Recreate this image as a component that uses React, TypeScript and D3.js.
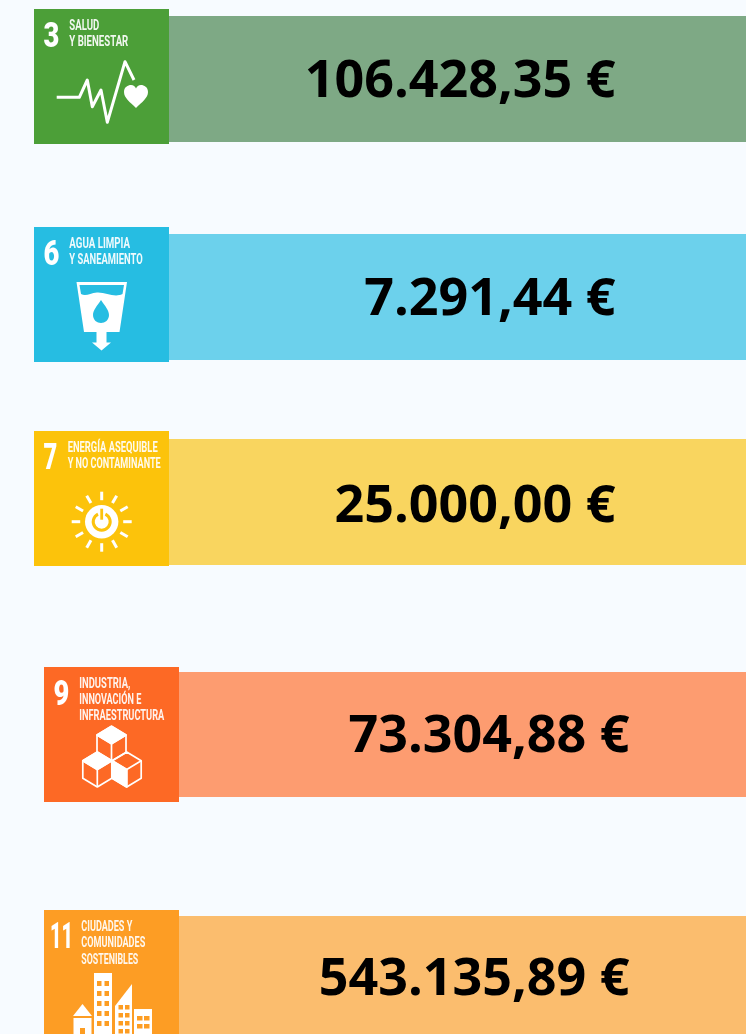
import React from 'react';
import * as d3 from 'd3';

const goals = [3, 6, 7, 9, 11];
const amounts = [106428.35, 7291.44, 25000.0, 73304.88, 543135.89];
const titles = [
  ['SALUD', 'Y BIENESTAR'],
  ['AGUA LIMPIA', 'Y SANEAMIENTO'],
  ['ENERGÍA ASEQUIBLE', 'Y NO CONTAMINANTE'],
  ['INDUSTRIA,', 'INNOVACIÓN E', 'INFRAESTRUCTURA'],
  ['CIUDADES Y', 'COMUNIDADES', 'SOSTENIBLES'],
];

// layout
const width = 746;
const height = 1034;
const tileSize = 135;
const tileColors = ['#4c9f38', '#26bde2', '#fcc30b', '#fd6925', '#fd9d24'];
const barColors = ['#7ea985', '#6cd1ec', '#f9d55f', '#fd9c70', '#fbbd6e'];
const tileX = [34, 34, 34, 44, 44];
const tileY = [9, 227, 431, 667, 910];
const barY = [16, 234, 439, 672, 916];
const barH = [126, 126, 126, 125, 126];
const textRight = [615.5, 615.5, 615.5, 629.5, 629.5];
const textBase = [97, 315, 522, 752, 995];
const titleX = [35.3, 35.3, 33.7, 35.3, 37.3];
const titleW = [[30, 59], [60.7, 73.3], [90, 93], [51, 62, 85], [51, 64, 57]];
const titleBase = [[21, 36.7], [21, 36.7], [21, 36.7], [21, 36.7, 53], [21.3, 37.3, 54]];
const numX = [9.5, 9.5, 9.5, 9.5, 6];
const numScale = [0.76, 0.76, 0.66, 0.76, 0.55];

const esLocale = d3.formatLocale({
  decimal: ',',
  thousands: '.',
  grouping: [3],
  currency: ['', ' €'],
});
const fmt = esLocale.format(',.2f');

const pulse: [number, number][] = [
  [22.7, 88.3], [45.3, 88.3], [53.3, 71], [58.3, 97.7], [67, 81], [73.3, 113.3], [91, 52.7], [100, 71],
];

function HealthIcon() {
  return (
    <g>
      <path d={d3.line()(pulse) ?? ''} fill="none" stroke="#fff" strokeWidth={3} strokeLinejoin="round" />
      <path
        d="M102 99 C96 93 90 89 90 83 C90 78 94 76 97 76 C99.5 76 101 77.5 102 79.5 C103 77.5 104.5 76 107 76 C110 76 114 78 114 83 C114 89 108 93 102 99 Z"
        fill="#fff"
      />
    </g>
  );
}

function WaterIcon({ bg }: { bg: string }) {
  return (
    <g>
      <path d="M42.5 55 H93 L85.5 105 H72.5 V115.5 H77 L67.5 123.5 L58 115.5 H62.5 V105 H50 Z" fill="#fff" />
      <path d="M45.5 58 H90 L88.5 67 C80 71 72 65 63 65.5 C56 66 52 70 47 67 Z" fill={bg} />
      <path d="M67 73 C71 79 75 83 75 88 C75 93 71 96 67 96 C63 96 59 93 59 88 C59 83 63 79 67 73 Z" fill={bg} />
    </g>
  );
}

function SunIcon({ bg }: { bg: string }) {
  const cx = 67.7;
  const cy = 90.7;
  const rays = d3.range(12).map(i => (i * Math.PI) / 6);
  return (
    <g>
      {rays.map((a, i) => (
        <line
          key={i}
          x1={cx + 21.5 * Math.cos(a)}
          y1={cy + 21.5 * Math.sin(a)}
          x2={cx + 30 * Math.cos(a)}
          y2={cy + 30 * Math.sin(a)}
          stroke="#fff"
          strokeWidth={3}
        />
      ))}
      <circle cx={cx} cy={cy} r={16.7} fill="#fff" />
      <path
        d={d3.arc()({ innerRadius: 7, outerRadius: 10, startAngle: 0.45, endAngle: 2 * Math.PI - 0.45 }) ?? ''}
        transform={`translate(${cx},${cy})`}
        fill={bg}
      />
      <rect x={cx - 1.4} y={cy - 13} width={2.8} height={11} fill={bg} />
    </g>
  );
}

function Cube({ cx, cy, s, fillRight }: { cx: number; cy: number; s: number; fillRight?: boolean }) {
  const h = s * 0.6;
  const hex = `M${cx} ${cy - 2 * h} L${cx + s} ${cy - h} V${cy + h} L${cx} ${cy + 2 * h} L${cx - s} ${cy + h} V${cy - h} Z`;
  const top = `M${cx} ${cy - 2 * h} L${cx + s} ${cy - h} L${cx} ${cy} L${cx - s} ${cy - h} Z`;
  const left = `M${cx - s} ${cy - h} L${cx} ${cy} V${cy + 2 * h} L${cx - s} ${cy + h} Z`;
  return (
    <g stroke="#fff" strokeWidth={1.7} strokeLinejoin="round" fill="none">
      <path d={hex} />
      {fillRight ? <path d={left} fill="#fff" /> : <path d={top} fill="#fff" />}
      <path d={`M${cx} ${cy} V${cy + 2 * h}`} />
      <path d={`M${cx - s} ${cy - h} L${cx} ${cy} L${cx + s} ${cy - h}`} />
    </g>
  );
}

function CubesIcon() {
  return (
    <g>
      <Cube cx={67.5} cy={76.7} s={14.5} />
      <Cube cx={53.3} cy={102.5} s={14.5} />
      <Cube cx={82.7} cy={102.5} s={14.5} fillRight />
    </g>
  );
}

function CityIcon({ bg }: { bg: string }) {
  const towerRows = d3.range(5);
  const towerCols = d3.range(2);
  return (
    <g>
      <path d="M29 106 L38.5 94 L48 106 Z" fill="#fff" />
      <rect x={29.5} y={108} width={18} height={20} fill="#fff" />
      <rect x={36} y={118} width={5} height={10} fill={bg} />
      <rect x={50} y={63} width={18} height={65} fill="#fff" />
      {towerRows.map(r =>
        towerCols.map(c => (
          <rect key={`${r}-${c}`} x={53 + c * 7.5} y={71 + r * 10} width={4.5} height={5} fill={bg} />
        )),
      )}
      <path d="M71 128 V96 L88 74 V128 Z" fill="#fff" />
      {d3.range(4).map(r =>
        d3.range(2).map(c => (
          <rect key={`s${r}-${c}`} x={74.5 + c * 6.5} y={95 + r * 8} width={4.5} height={4.5} fill={bg} />
        )),
      )}
      <rect x={90} y={99} width={18} height={29} fill="#fff" />
      <rect x={93} y={106} width={5.5} height={4.5} fill={bg} />
      <rect x={100} y={106} width={5.5} height={4.5} fill={bg} />
      <rect x={93} y={114} width={5.5} height={4.5} fill={bg} />
      <rect x={100} y={114} width={5.5} height={4.5} fill={bg} />
    </g>
  );
}

function Icon({ i }: { i: number }) {
  const bg = tileColors[i];
  if (i === 0) return <HealthIcon />;
  if (i === 1) return <WaterIcon bg={bg} />;
  if (i === 2) return <SunIcon bg={bg} />;
  if (i === 3) return <CubesIcon />;
  return <CityIcon bg={bg} />;
}

export default function App() {
  return (
    <svg
      width={width}
      height={height}
      viewBox={`0 0 ${width} ${height}`}
      style={{ position: 'absolute', left: 0, top: 0, display: 'block', background: '#f7fbff' }}
    >
      <defs>
        <filter id="soft" x="-5%" y="-5%" width="110%" height="110%">
          <feGaussianBlur stdDeviation="0.35" />
        </filter>
      </defs>
      {goals.map((goal, i) => (
        <g key={goal}>
          <rect
            x={tileX[i] + tileSize}
            y={barY[i]}
            width={width - tileX[i] - tileSize}
            height={barH[i]}
            fill={barColors[i]}
          />
          <text
            x={textRight[i]}
            y={textBase[i]}
            textAnchor="end"
            fontFamily="'Open Sans', sans-serif"
            fontWeight={700}
            fontSize={52}
            fill="#000"
          >
            {`${fmt(amounts[i])} €`}
          </text>
          <g transform={`translate(${tileX[i]},${tileY[i]})`}>
            <rect width={tileSize} height={tileSize} fill={tileColors[i]} />
            <g filter="url(#soft)">
              <text
                transform={`translate(${numX[i]},37.7) scale(${numScale[i]},1)`}
                fontFamily="Roboto, sans-serif"
                fontWeight={900}
                fontSize={36}
                fill="#fff"
              >
                {goal}
              </text>
              {titles[i].map((line, j) => (
                <text
                  key={line}
                  x={titleX[i]}
                  y={titleBase[i][j]}
                  fontFamily="Roboto, sans-serif"
                  fontWeight={700}
                  fontSize={14}
                  fill="#fff"
                  fillOpacity={0.92}
                  textLength={titleW[i][j]}
                  lengthAdjust="spacingAndGlyphs"
                >
                  {line}
                </text>
              ))}
              <Icon i={i} />
            </g>
          </g>
        </g>
      ))}
    </svg>
  );
}
